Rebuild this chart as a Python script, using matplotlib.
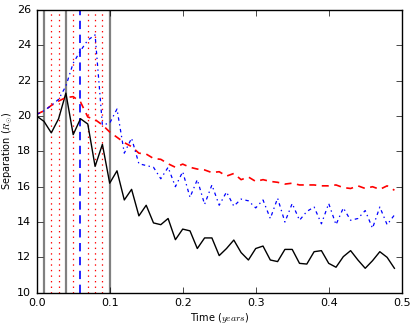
import matplotlib
matplotlib.use('Agg')
import matplotlib.pyplot as plt
import numpy as np

plt.style.use('classic')

time = np.arange(50) * 0.01

# solid black curve
sep_black = [20.0, 19.7, 19.05, 19.85, 21.3, 18.95, 19.85, 19.55, 17.15, 18.4,
             16.2, 16.9, 15.25, 15.85, 14.35, 14.95, 13.95, 13.85, 14.2, 13.0,
             13.6, 13.5, 12.5, 13.1, 13.1, 12.1, 12.5, 12.98, 12.27, 11.85,
             12.5, 12.64, 11.85, 11.76, 12.45, 12.45, 11.66, 11.62, 12.32, 12.38,
             11.66, 11.44, 12.04, 12.38, 11.85, 11.38, 11.81, 12.32, 12.0, 11.38]

# red dashed curve
sep_red = [20.1, 20.3, 20.6, 20.85, 21.05, 21.1, 20.8, 19.95, 19.8, 19.5,
           19.1, 18.8, 18.5, 18.27, 17.9, 17.85, 17.6, 17.55, 17.3, 17.1,
           17.28, 17.1, 17.0, 16.95, 16.8, 16.85, 16.6, 16.75, 16.4, 16.55,
           16.3, 16.4, 16.3, 16.25, 16.15, 16.2, 16.1, 16.1, 16.1, 16.05,
           16.05, 16.1, 15.95, 15.9, 16.05, 15.9, 16.0, 15.85, 16.05, 15.8]

# blue dash-dot curve
sep_blue = [20.1, 20.3, 20.6, 20.95, 21.7, 23.0, 23.7, 24.3, 24.6, 19.5,
            19.6, 20.4, 17.9, 18.75, 17.3, 17.2, 17.1, 16.45, 17.1, 16.0,
            16.85, 15.4, 16.4, 15.0, 16.1, 14.95, 15.7, 14.9, 15.3, 15.2,
            14.8, 15.25, 14.2, 15.35, 14.0, 15.05, 14.1, 14.6, 14.85, 13.9,
            15.05, 13.85, 14.8, 14.1, 14.2, 14.65, 13.65, 14.85, 13.85, 14.4]

gray_times = [0.01, 0.04, 0.10]
red_times = [0.02, 0.03, 0.05, 0.07, 0.08, 0.09]
blue_times = [0.06]

fig = plt.figure(figsize=(4.15, 3.27), dpi=100, facecolor='white')
ax = fig.add_axes([0.0884, 0.105, 0.8796, 0.864])

for t in gray_times:
    ax.axvline(t, color='gray', lw=1.6, ls='-')
for t in red_times:
    ax.axvline(t, color='red', lw=0.9, ls=':')
for t in blue_times:
    ax.axvline(t, color='blue', lw=1.2, ls='--', dashes=(6, 4))

ax.plot(time, sep_black, 'k-', lw=1)
ax.plot(time, sep_red, 'r--', lw=1.2, dashes=(5, 4))
ax.plot(time, sep_blue, 'b-.', lw=0.9, dashes=(2.5, 2.5, 1, 2.5))

ax.set_xlim(0, 0.5)
ax.set_ylim(10, 26)
ax.set_xticks(np.arange(0, 0.51, 0.1))
ax.set_yticks(np.arange(10, 27, 2))
ax.tick_params(labelsize=8)
ax.set_xlabel('Time ($years$)', fontsize=7, labelpad=2)
ax.set_ylabel(r'Separation ($R_{\odot}$)', fontsize=7, labelpad=1)

fig.savefig('out.png', dpi=100, facecolor='white')
